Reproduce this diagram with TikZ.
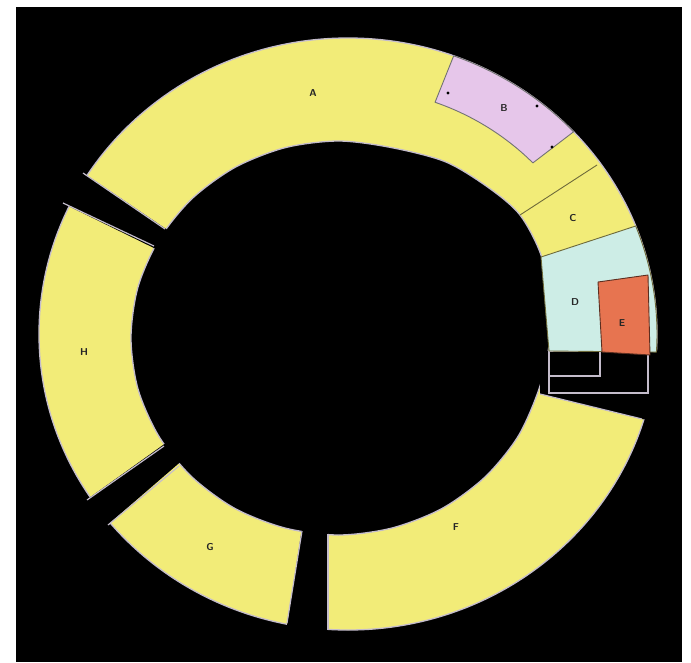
\documentclass[tikz,border=0pt]{standalone}
\usepackage{tikz}
\usetikzlibrary{calc}
\usepackage{xcolor}
\definecolor{ringfill}{HTML}{F2EC78}
\definecolor{pinkfill}{HTML}{E6C6EA}
\definecolor{mintfill}{HTML}{CDEDE6}
\definecolor{orangefill}{HTML}{E77450}
\definecolor{rimline}{HTML}{C4BCCB}
\definecolor{darkline}{HTML}{6E6A3A}
\tikzset{
  rimedge/.style={draw=rimline,line width=1.3pt},
  gapcut/.style={fill=black},
  cutedge/.style={draw=rimline,line width=1.2pt},
  piecebox/.style={line width=0.9pt,line join=round},
  piecelabel/.style={font=\sffamily\bfseries\fontsize{10}{12}\selectfont,
    text=black!85,inner sep=1pt},
}
\newcommand\holeshape{plot[smooth cycle] coordinates {(338.5,141) (392,147.7)
  (446,162) (489,188) (520,215) (541,255) (549,300) (549,345) (539,389)
  (518,436.5) (485,477) (442,508.5) (392,528) (338.5,535) (285,528)
  (235,508.5) (192,477) (159,436.5) (138,389) (131,338) (138,287)
  (159,239.5) (192,198.7) (235,167.4) (285,147.7)}}

\begin{document}
\begin{tikzpicture}[x=1pt,y=-1pt]
  \useasboundingbox (0,0) rectangle (691,662);
  \fill[black] (16,7) rectangle (682,662);
  \coordinate (oc) at (348,334);
  \fill[ringfill] (oc) ellipse[x radius=309,y radius=296];
  \fill[black] \holeshape;
  \draw[rimedge] (oc) ellipse[x radius=309,y radius=296];
  \draw[rimedge] \holeshape;
  \begin{scope}
    \clip (oc) ellipse[x radius=313,y radius=300];
    \fill[gapcut] (70,164) -- (175,235) -- (160,251) -- (52,198) -- cycle;
    \fill[gapcut] (75,508) -- (170,440) -- (185,458) -- (97,534) -- cycle;
    \fill[gapcut] (284,645) -- (304,515) -- (328,515) -- (328,645) -- cycle;
    \fill[gapcut] (540,351) -- (670,351) -- (670,423) -- (642,419)
      -- (540,394) -- cycle;
  \end{scope}
  \draw[cutedge] (83,173) -- (165,229);
  \draw[cutedge] (63,203) -- (154,246);
  \draw[cutedge] (87,500) -- (164,446);
  \draw[cutedge] (108,525) -- (179,466);
  \draw[cutedge] (287,623) -- (302,531);
  \draw[cutedge] (328,630) -- (328,534);
  \draw[cutedge] (540,394) -- (642,419);
  \draw[cutedge] (549,351) rectangle (600,376);
  \draw[cutedge] (549,351) rectangle (648,393);

  \filldraw[piecebox,fill=pinkfill,draw=black!55]
    ($(oc)+(-70:309 and 296)$) arc[start angle=-70,end angle=-43.1,x radius=309,y radius=296]
    -- ($(oc)+(-44:257 and 246.3)$) arc[start angle=-44,end angle=-70.2,x radius=257,y radius=246.3]
    -- cycle;
  \filldraw[piecebox,fill=mintfill,draw=darkline]
    (541,257) -- ($(oc)+(-21.4:309 and 296)$)
    arc[start angle=-21.4,end angle=3.5,x radius=309,y radius=296]
    -- (549,351) -- cycle;
  \filldraw[piecebox,fill=orangefill,draw=black!60!orangefill]
    (598,282) -- (648,275) -- (650,355) -- (602,352) -- cycle;
  \draw[darkline,line width=0.9pt] (520,215) -- (597,165);
  \fill (448,93) circle[radius=1.6];
  \fill (537,106) circle[radius=1.6];
  \fill (552,147) circle[radius=1.6];

  \node[piecelabel] (labA) at (313,93) {A};
  \node[piecelabel] (labB) at (504,108) {B};
  \node[piecelabel] (labC) at (573,218) {C};
  \node[piecelabel] (labD) at (575,302) {D};
  \node[piecelabel] (labE) at (622,323) {E};
  \node[piecelabel] (labF) at (456,527) {F};
  \node[piecelabel] (labG) at (210,547) {G};
  \node[piecelabel] (labH) at (84,352) {H};
\end{tikzpicture}
\end{document}
